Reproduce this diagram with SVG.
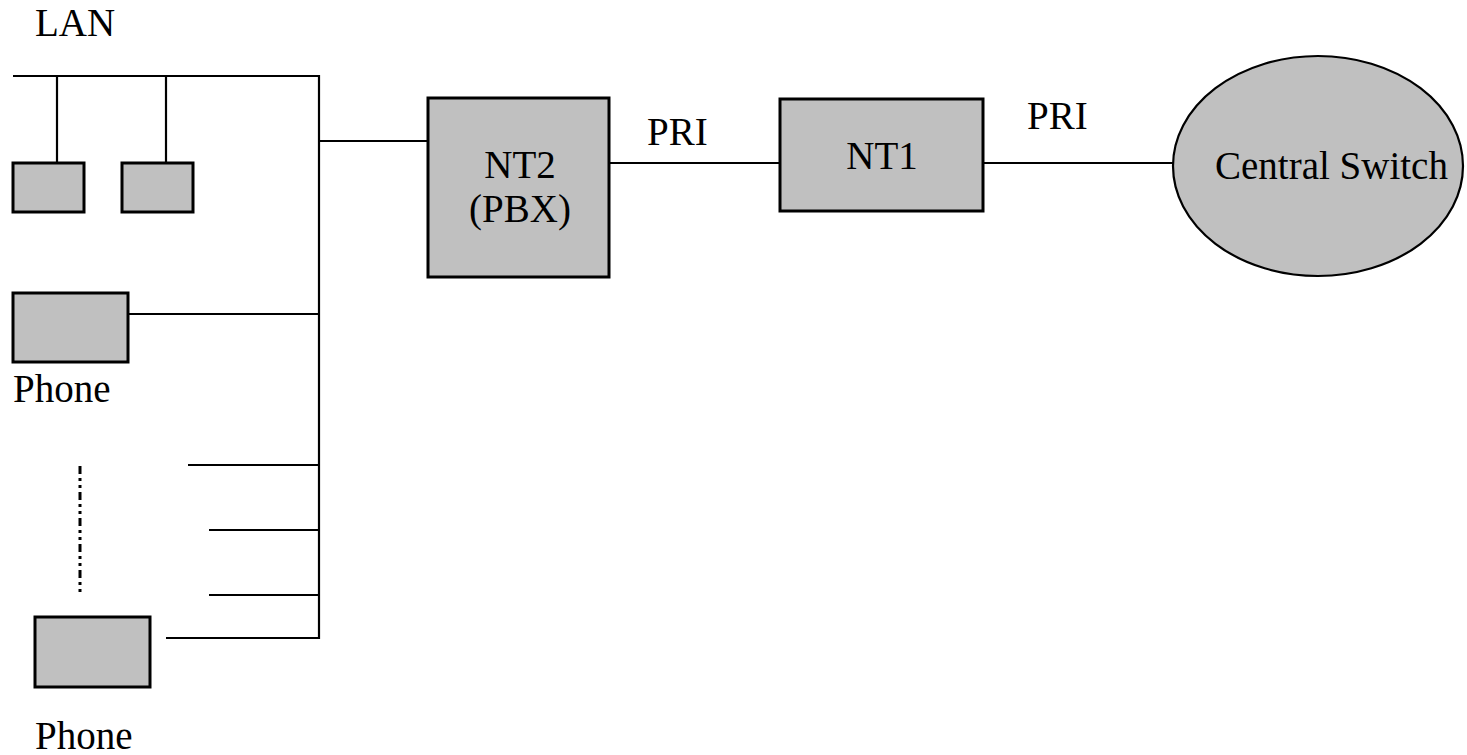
<svg xmlns="http://www.w3.org/2000/svg" width="1467" height="755" viewBox="0 0 1467 755">
  <style>
    .box { fill: #c0c0c0; stroke: #000; stroke-width: 3; }
    .wire { stroke: #000; stroke-width: 2.2; fill: none; }
    .lbl { font-family: "Liberation Serif", "Noto Serif", "Times New Roman", Times, "DejaVu Serif", serif; font-size: 39px; fill: #000; }
    .mid { text-anchor: middle; }
  </style>
  <rect width="1467" height="755" fill="#fff"/>

  <!-- wiring -->
  <g id="connectors">
    <!-- LAN bus and drops -->
    <polyline class="wire" points="13,76 319,76 319,638 166,638"/>
    <line class="wire" x1="57" y1="76" x2="57" y2="163"/>
    <line class="wire" x1="166" y1="76" x2="166" y2="163"/>
    <!-- bus to PBX -->
    <line class="wire" x1="319" y1="141" x2="428" y2="141"/>
    <!-- phone stubs -->
    <line class="wire" x1="128" y1="314" x2="319" y2="314"/>
    <line class="wire" x1="188" y1="465" x2="319" y2="465"/>
    <line class="wire" x1="209" y1="530" x2="319" y2="530"/>
    <line class="wire" x1="209" y1="595" x2="319" y2="595"/>
    <!-- ellipsis marker between phones -->
    <line x1="80" y1="466" x2="80" y2="592" stroke="#000" stroke-width="3" stroke-dasharray="8 4 3 4 3 4"/>
    <!-- PRI links -->
    <line class="wire" x1="609" y1="163" x2="780" y2="163"/>
    <line class="wire" x1="983" y1="163" x2="1173" y2="163"/>
  </g>

  <g id="lan-host-1"><rect class="box" x="13" y="163" width="71" height="49"/></g>
  <g id="lan-host-2"><rect class="box" x="122" y="163" width="71" height="49"/></g>

  <g id="phone-1">
    <rect class="box" x="13" y="293" width="115" height="69"/>
    <text class="lbl" x="13" y="402">Phone</text>
  </g>

  <g id="phone-n">
    <rect class="box" x="35" y="617" width="115" height="70"/>
    <text class="lbl" x="35" y="749">Phone</text>
  </g>

  <g id="lan-label"><text class="lbl" x="35" y="36">LAN</text></g>

  <g id="nt2">
    <rect class="box" x="428" y="98" width="181" height="179"/>
    <text class="lbl mid" x="520" y="178">NT2</text>
    <text class="lbl mid" x="520" y="222">(PBX)</text>
  </g>

  <g id="pri-1"><text class="lbl" x="647" y="145">PRI</text></g>

  <g id="nt1">
    <rect class="box" x="780" y="99" width="203" height="112"/>
    <text class="lbl mid" x="882" y="169">NT1</text>
  </g>

  <g id="pri-2"><text class="lbl" x="1027" y="129">PRI</text></g>

  <g id="central-switch">
    <ellipse cx="1318" cy="166" rx="145" ry="110" fill="#c0c0c0" stroke="#000" stroke-width="2.2"/>
    <text class="lbl" x="1215" y="179">Central Switch</text>
  </g>
</svg>
